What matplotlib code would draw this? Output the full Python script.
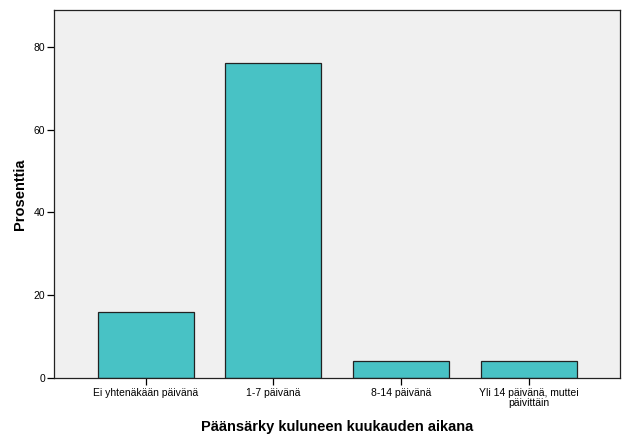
import matplotlib
matplotlib.use("Agg")
import matplotlib.pyplot as plt

categories = ["Ei yhtenäkään päivänä", "1-7 päivänä", "8-14 päivänä", "Yli 14 päivänä, muttei\npäivittäin"]
values = [16, 76, 4, 4]
yticks = [0, 20, 40, 60, 80]

plt.rcParams['font.family'] = ['Liberation Sans', 'DejaVu Sans']

fig = plt.figure(figsize=(6.29, 4.44), dpi=100)
ax = fig.add_axes([53.5/629, 66/444, (620-53.5)/629, (378-10)/444])
ax.set_facecolor('#f0f0f0')
x = list(range(len(categories)))
ax.bar(x, values, width=0.75, color='#48c2c5', edgecolor='#222222', linewidth=0.9)
ax.set_xlim(-0.72, 3.71)
ax.set_ylim(0, 88.9)
ax.set_yticks(yticks)
ax.set_xticks(x)
ax.set_xticklabels(categories, fontsize=7.5, linespacing=1.0)
ax.tick_params(axis='y', labelsize=7.5, length=5, width=0.9, direction='out', pad=1)
ax.tick_params(axis='x', length=5, width=0.9, direction='out', pad=2)
for s in ax.spines.values():
    s.set_linewidth(0.9)
    s.set_color('#222222')
ax.set_xlabel("Päänsärky kuluneen kuukauden aikana", fontsize=10.5, fontweight='bold', labelpad=9)
ax.set_ylabel("Prosenttia", fontsize=10.5, fontweight='bold', labelpad=5)
fig.savefig("out.png", dpi=100)
